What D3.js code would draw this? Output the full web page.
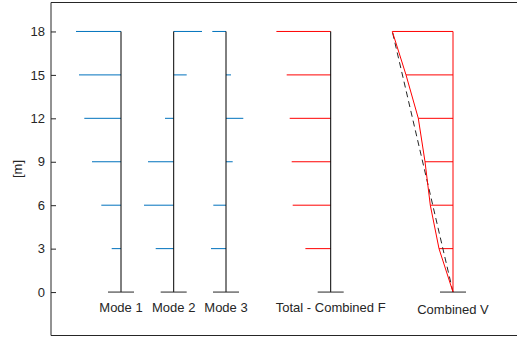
<!DOCTYPE html>
<html>
<head>
<meta charset="utf-8">
<script src="https://cdn.jsdelivr.net/npm/d3@7"></script>
<style>
  html, body { margin: 0; padding: 0; background: #fff; }
  svg { display: block; }
  text { font-family: "Liberation Sans", Arial, Helvetica, sans-serif; fill: #262626; }
</style>
</head>
<body>
<svg id="chart" width="517" height="340"></svg>
<script>
// Storey levels [m]
const levels = [3, 6, 9, 12, 15, 18];
const yTicks = [0, 3, 6, 9, 12, 15, 18];

// Column base positions along the horizontal axis (plot units)
const columnNames = ["Mode 1", "Mode 2", "Mode 3", "Total - Combined F", "Combined V"];
const columnX = [70, 122.7, 175, 279.7, 402];

// Lateral storey forces per mode (negative = drawn to the left of the column)
const mode1 = [-9.3, -19.7, -29, -36.7, -42, -45];
const mode2 = [-18, -29.7, -25.7, -8.7, 13, 28.3];
const mode3 = [-15, -12.7, 6.7, 17.3, 5, -13.7];
// Combined storey forces
const combinedF = [-25.3, -38, -39, -41, -44, -54.3];
// Combined storey shear, from base (0 m) to top (18 m)
const shearLevels = [0, 3, 6, 9, 12, 15, 18];
const combinedV = [0, -14, -22.7, -28, -34.7, -47, -60.7];

const BLUE = "#0072BD", RED = "#FF0000", INK = "#262626";
const FONT = "13px";

const svg = d3.select("#chart");
const m = { left: 51, top: 2.5, right: 0, bottom: 4.5 };
const W = 517, H = 340;

const x = d3.scaleLinear().domain([0, 466]).range([m.left, W - m.right]);
const y = d3.scaleLinear().domain([-3, 20]).range([H - m.bottom, m.top]);

// Axes box (top, left, bottom)
svg.append("path")
  .attr("d", `M${W + 1},${y(20)}H${x(0)}V${y(-3)}H${W + 1}`)
  .attr("fill", "none").attr("stroke", INK).attr("stroke-width", 1);

// Y axis with inward ticks
const yAxis = d3.axisLeft(y).tickValues(yTicks).tickSizeInner(-5).tickSizeOuter(0).tickPadding(6);
const gy = svg.append("g").attr("transform", `translate(${x(0)},0)`).call(yAxis);
gy.select(".domain").remove();
gy.selectAll(".tick line").attr("stroke", INK);
gy.selectAll(".tick text")
  .attr("fill", INK)
  .style("font-size", FONT)
  .style("font-family", "'Liberation Sans', Arial, sans-serif");

svg.append("text")
  .attr("transform", `translate(22,${y(8.5)}) rotate(-90)`)
  .attr("text-anchor", "middle")
  .style("font-size", FONT)
  .text("[m]");

const plot = svg.append("g");

// Horizontal force bars from each column
function bars(col, values, color) {
  plot.append("g").selectAll("line")
    .data(values)
    .join("line")
    .attr("x1", x(columnX[col]))
    .attr("x2", d => x(columnX[col] + d))
    .attr("y1", (d, i) => y(levels[i]))
    .attr("y2", (d, i) => y(levels[i]))
    .attr("stroke", color)
    .attr("stroke-width", 1);
}

// Column (storey axis) with base line
function column(col, color) {
  const cx = x(columnX[col]);
  plot.append("line")
    .attr("x1", cx).attr("x2", cx)
    .attr("y1", y(0)).attr("y2", y(18))
    .attr("stroke", color).attr("stroke-width", 1);
  plot.append("line")
    .attr("x1", x(columnX[col] - 13)).attr("x2", x(columnX[col] + 13))
    .attr("y1", y(0)).attr("y2", y(0))
    .attr("stroke", INK).attr("stroke-width", 1);
}

bars(0, mode1, BLUE);
bars(1, mode2, BLUE);
bars(2, mode3, BLUE);
bars(3, combinedF, RED);

// Shear diagram: bars from column to the shear profile
plot.append("g").selectAll("line")
  .data(combinedV.slice(1))
  .join("line")
  .attr("x1", x(columnX[4]))
  .attr("x2", d => x(columnX[4] + d))
  .attr("y1", (d, i) => y(shearLevels[i + 1]))
  .attr("y2", (d, i) => y(shearLevels[i + 1]))
  .attr("stroke", RED).attr("stroke-width", 1);

// Linear reference (dashed) from base to top shear
const ref = [0, combinedV.length - 1];
plot.append("path")
  .datum(ref)
  .attr("d", d3.line()
    .x(i => x(columnX[4] + combinedV[i]))
    .y(i => y(shearLevels[i])))
  .attr("fill", "none").attr("stroke", INK).attr("stroke-width", 1)
  .attr("stroke-dasharray", "6,4");

// Shear profile
plot.append("path")
  .datum(combinedV)
  .attr("d", d3.line()
    .x(d => x(columnX[4] + d))
    .y((d, i) => y(shearLevels[i])))
  .attr("fill", "none").attr("stroke", RED).attr("stroke-width", 1);

column(0, "#000");
column(1, "#000");
column(2, "#000");
column(3, "#000");
column(4, RED);

// Column labels
svg.append("g").selectAll("text")
  .data(columnNames)
  .join("text")
  .attr("x", (d, i) => x(columnX[i]))
  .attr("y", (d, i) => y(0) + (i === 4 ? 21.5 : 20))
  .attr("text-anchor", "middle")
  .style("font-size", FONT)
  .text(d => d);
</script>
</body>
</html>
